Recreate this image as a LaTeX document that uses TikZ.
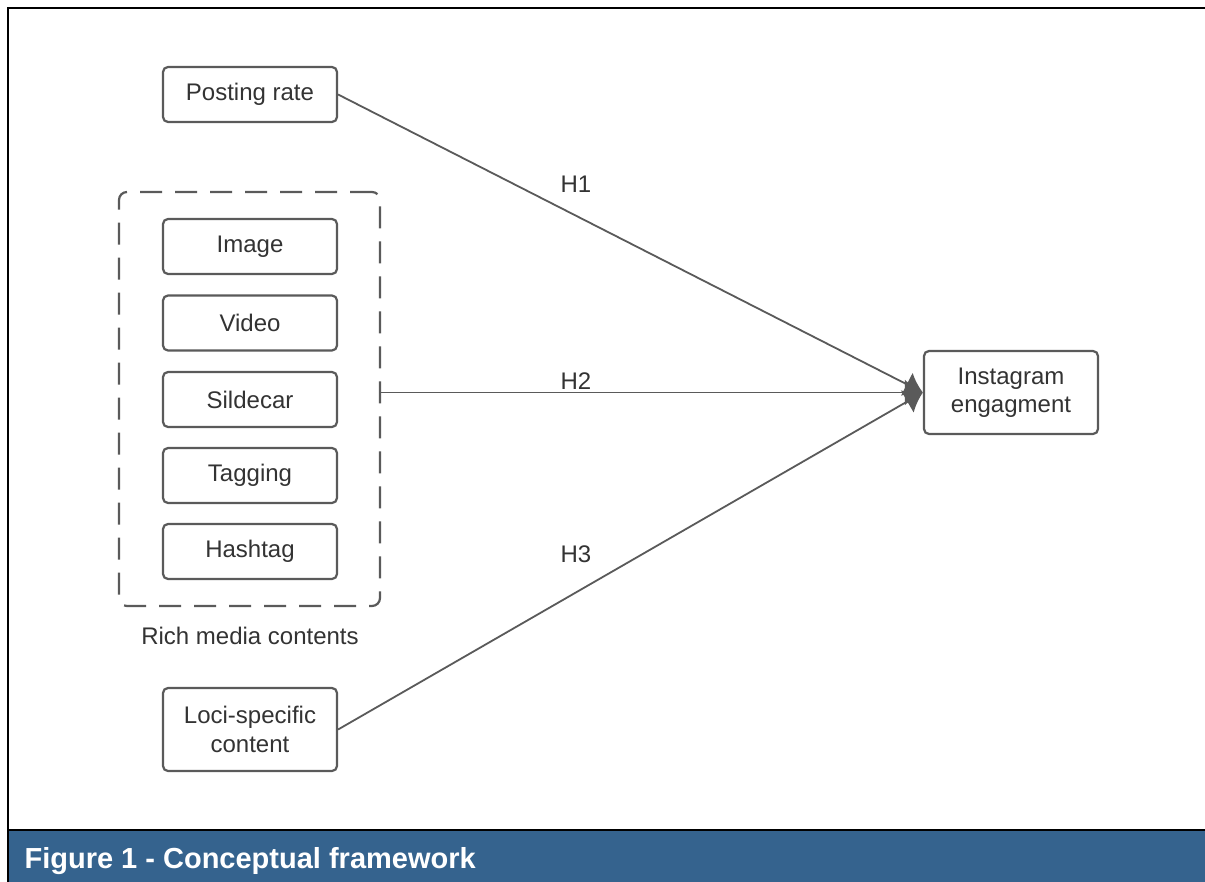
\documentclass[tikz,border=0pt]{standalone}
\usepackage{fontspec}
\setmainfont{Liberation Sans}
\usetikzlibrary{arrows.meta}
\definecolor{lgray}{RGB}{90,90,90}
\definecolor{tgray}{RGB}{51,51,51}
\definecolor{barblue}{RGB}{53,99,142}
\begin{document}
\begin{tikzpicture}[x=1pt,y=-1pt,
  box/.style={draw=lgray,line width=2.2pt,rounded corners=5pt,minimum width=174pt,minimum height=55pt,inner sep=0pt,align=center,text=tgray,font=\fontsize{24}{28.5}\selectfont},
  tallbox/.style={box,minimum height=83pt},
  link/.style={draw=lgray,line width=1.8pt,-{Latex[length=18pt,width=26pt]}},
  lab/.style={text=tgray,font=\fontsize{24}{28}\selectfont}]
\useasboundingbox (0,0) rectangle (1205,882);
\fill[white] (0,0) rectangle (1205,882);
\fill[barblue] (8,831) rectangle (1205,882);
\draw[black,line width=2.4pt] (1205,8) -- (8,8) -- (8,882);
\draw[black,line width=2.4pt] (8,830) -- (1205,830);
\node[anchor=west,text=white,font=\fontsize{29}{32}\selectfont\bfseries] (title) at (21,861) {Figure 1 - Conceptual framework};

\node[box] (post) at (250,94.5) {Posting rate};
\node[box] (img) at (250,246.5) {Image};
\node[box] (vid) at (250,323) {Video};
\node[box] (side) at (250,399.5) {Sildecar};
\node[box] (tag) at (250,475.5) {Tagging};
\node[box] (hash) at (250,551.5) {Hashtag};
\node[tallbox] (loci) at (250,729.5) {Loci-specific\\content};
\node[tallbox] (eng) at (1011,392.5) {Instagram\\engagment};

\node[draw=lgray,line width=2.2pt,dash pattern=on 22pt off 13pt,rounded corners=8pt,minimum width=261pt,minimum height=414pt,inner sep=0pt] (rich) at (249.5,399) {};
\node[lab] (richlab) at (250,636) {Rich media contents};
\coordinate (richout) at (rich.east |- eng.west);

\draw[link] (post.east) -- (eng.west);
\draw[link] (richout) -- (eng.west);
\draw[link] (loci.east) -- (eng.west);

\node[lab] (h1) at (576,184) {H1};
\node[lab] (h2) at (576,381) {H2};
\node[lab] (h3) at (576,554) {H3};
\end{tikzpicture}
\end{document}
